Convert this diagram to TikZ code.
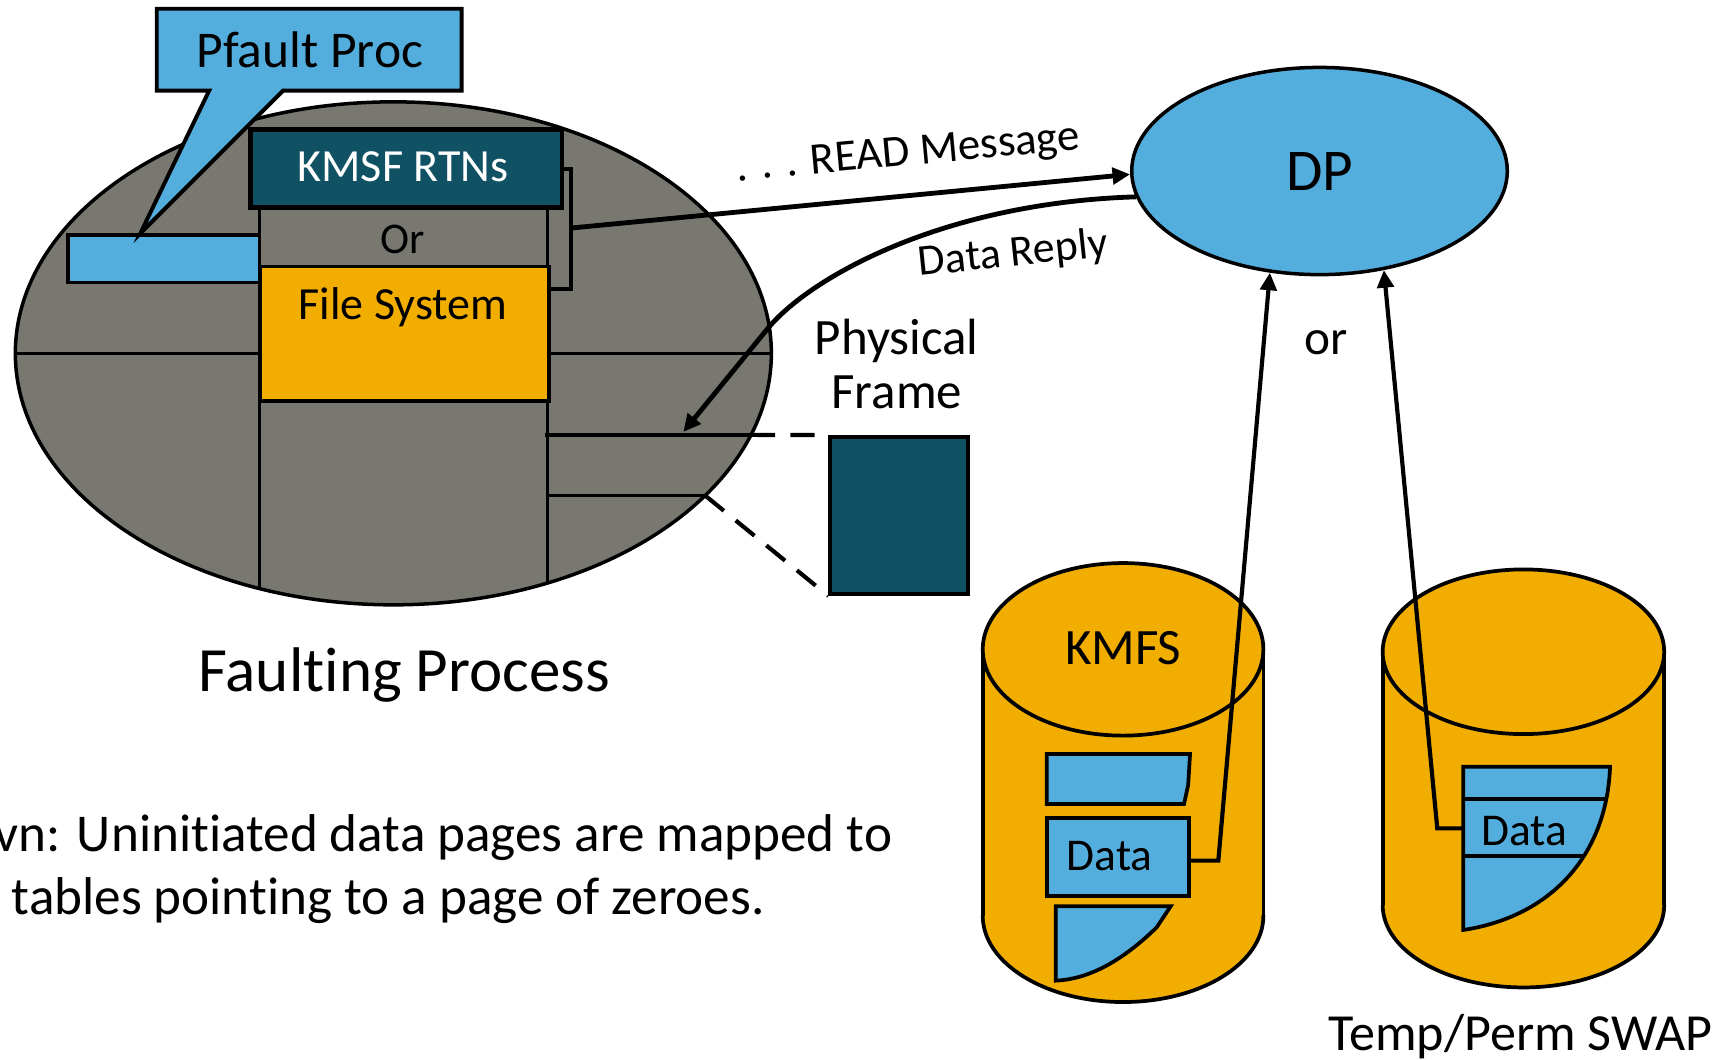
\documentclass[tikz,border=0pt]{standalone}
\usepackage{fontspec}
\setmainfont{Carlito}[Ligatures=CommonOff]
\usetikzlibrary{shapes.geometric, arrows.meta}

\definecolor{procgray}{RGB}{121,120,112}
\definecolor{skyblue}{RGB}{83,174,221}
\definecolor{deepteal}{RGB}{16,82,100}
\definecolor{amber}{RGB}{242,174,0}

\tikzset{
  fs/.style={font=\fontsize{#1}{#1}\selectfont},
  lbl/.style={inner sep=0pt, anchor=base},
  thinline/.style={line width=3pt},
  outl/.style={draw=black, line width=3.4pt},
  boxnode/.style={draw=black, inner sep=0pt, anchor=north west},
  arr/.style={line width=4.4pt, -{Triangle[length=16pt,width=15pt]}},
  dashedlink/.style={line width=3.8pt, dash pattern=on 22pt off 14pt},
}

\begin{document}
\begin{tikzpicture}[x=1pt,y=-1pt]
\fill[white] (0,0) rectangle (1568,966);
\useasboundingbox (0,0) rectangle (1568,966);

% ---------- faulting process address space ----------
\node[ellipse, draw, line width=3.2pt, fill=procgray, minimum width=689.6pt,
      minimum height=458.8pt, inner sep=0pt] (fp) at (358.8,322.3) {};
\begin{scope}
  \clip (358.8,322.3) ellipse [x radius=344.8, y radius=229.4];
  \draw[thinline] (0,322.3) -- (720,322.3);
  \draw[thinline] (497,396.7) -- (720,396.7);
  \draw[thinline] (499.3,452) -- (720,452);
  \draw[thinline] (236.4,187.3) -- (236.4,600);
  \draw[thinline] (499.3,187.3) -- (499.3,600);
\end{scope}

% file system region and the "Or" slot above it
\node[boxnode, thinline, fill=amber, minimum width=262.9pt, minimum height=122.4pt]
  (fsys) at (236.4,241.8) {};
\node[lbl, fs=42] (fstxt) at (367.6,291.1) {File System};
\node[lbl, fs=40] (ortxt) at (367.6,231.5) {Or};

% pfault entry and its callout
\node[boxnode, thinline, fill=skyblue, minimum width=174.5pt, minimum height=43.3pt]
  (pfrect) at (60.5,212.9) {};
\draw[outl, line width=3.6pt, fill=skyblue]
  (143,8) -- (421,8) -- (421,82.6) -- (258.3,82.6) -- (128,212.9)
  -- (190.8,82.6) -- (143,82.6) -- cycle;
\node[lbl, fs=47] (pfault) at (282.5,61.5) {Pfault Proc};

% KMSF routines
\node[boxnode, line width=4.2pt, fill=deepteal, minimum width=283.9pt, minimum height=71.2pt]
  (kmsf) at (226.6,116.1) {};
\node[lbl, fs=42, text=white] (kmsftxt) at (367.6,165.5) {KMSF RTNs};

% bracket grouping KMSF RTNs / File System
\draw[line width=4pt] (510.5,154) -- (521,154) -- (521,263.5) -- (499.3,263.5);
\coordinate (brk) at (521,208);

% physical frame and its mapping
\coordinate (pfa) at (685,396.7);
\coordinate (pfb) at (643.2,452);
\node[boxnode, line width=3.6pt, fill=deepteal, minimum width=125.6pt, minimum height=143.2pt]
  (frame) at (755.6,396.8) {};
\draw[dashedlink] (pfa) -- (frame.north west);
\draw[dashedlink] (pfb) -- (frame.south west);
\node[lbl, fs=46.5] (phys1) at (818,323) {Physical};
\node[lbl, fs=46.5] (phys2) at (818,372.5) {Frame};

\node[lbl, fs=57.5] (fptxt) at (368.8,630.8) {Faulting Process};
\node[lbl, fs=48.5, anchor=base east] (note1) at (814,776.8) {vn: Uninitiated data pages are mapped to};
\node[lbl, fs=48.5, anchor=base west] (note2) at (10.6,834.6) {tables pointing to a page of zeroes.};

% ---------- data pager ----------
\node[ellipse, draw, line width=3.2pt, fill=skyblue, minimum width=342.6pt,
      minimum height=189pt, inner sep=0pt, fs=54] (dp) at (1203.6,156) {DP};
\node[lbl, fs=45] (ortxt2) at (1210,323.8) {or};

% ---------- KMFS cylinder ----------
\fill[amber] (896.4,592.3) rectangle (1152.4,835.3);
\fill[amber] (1024.4,835.3) ellipse [x radius=128, y radius=78.7];
\begin{scope}
  \clip (880,835.3) rectangle (1170,930);
  \draw[outl] (1024.4,835.3) ellipse [x radius=128, y radius=78.7];
\end{scope}
\draw[outl] (896.4,592.3) -- (896.4,835.3);
\draw[outl] (1152.4,592.3) -- (1152.4,835.3);
\draw[outl, fill=amber] (1024.4,592.3) ellipse [x radius=128, y radius=78.7];
\node[lbl, fs=46.5] (kmfstxt) at (1024.6,605.7) {KMFS};

\draw[outl, fill=skyblue] (954.7,687.8) -- (1085.5,687.8) -- (1083.8,716) -- (1080,733.4)
  -- (954.7,733.4) -- cycle;
\node[boxnode, line width=3.6pt, fill=skyblue, minimum width=129.2pt, minimum height=70.9pt]
  (kdata) at (953.2,744.6) {};
\node[lbl, fs=41.5] (kdatatxt) at (1012.2,794.2) {Data};
\draw[outl, fill=skyblue] (963,826.7) -- (1067.8,826.7) -- (1055,846)
  .. controls (1025,875) and (995,893) .. (963,894.5) -- cycle;

% ---------- swap cylinder ----------
\fill[amber] (1261.2,594.5) rectangle (1518,825.6);
\fill[amber] (1389.6,825.6) ellipse [x radius=128.4, y radius=75.1];
\begin{scope}
  \clip (1240,825.6) rectangle (1540,920);
  \draw[outl] (1389.6,825.6) ellipse [x radius=128.4, y radius=75.1];
\end{scope}
\draw[outl] (1261.2,594.5) -- (1261.2,825.6);
\draw[outl] (1518,594.5) -- (1518,825.6);
\draw[outl, fill=amber] (1389.6,594.5) ellipse [x radius=128.4, y radius=75.1];

\fill[skyblue] (1334.8,699.3) -- (1468.6,699.3) .. controls (1466,775) and (1420,835) .. (1334.8,848.3) -- cycle;
\begin{scope}
  \clip (1334.8,699.3) -- (1468.6,699.3) .. controls (1466,775) and (1420,835) .. (1334.8,848.3) -- cycle;
  \draw[outl] (1320,728.8) -- (1490,728.8);
  \draw[outl] (1320,780.8) -- (1490,780.8);
\end{scope}
\draw[outl] (1334.8,699.3) -- (1468.6,699.3) .. controls (1466,775) and (1420,835) .. (1334.8,848.3) -- cycle;
\node[lbl, fs=41.5] (sdatatxt) at (1390.3,770.8) {Data};
\node[lbl, fs=47.5, anchor=base west] (swaptxt) at (1211.6,957.8) {Temp/Perm SWAP};

% ---------- messages ----------
\draw[arr] (brk) -- (dp.181);
\node[inner sep=0pt, fs=41, rotate=5.3] (readlbl) at (828.5,141) {. . . READ Message};

\coordinate (replyend) at (623.3,394);
\draw[arr] (dp.188) .. controls (860,185) and (738.5,253) .. (700,300) -- (replyend);
\node[inner sep=0pt, fs=40, rotate=6] (replylbl) at (924.3,232) {Data Reply};

\coordinate (kbend) at (1111.3,785);
\draw[arr, line width=3.8pt] (kdata.east |- kbend) -- (kbend) -- (dp.244);
\coordinate (sconn) at (1334.8,755.6);
\coordinate (sbend) at (1311,755.6);
\draw[arr, line width=3.8pt] (sconn) -- (sbend) -- (dp.303);
\end{tikzpicture}
\end{document}
